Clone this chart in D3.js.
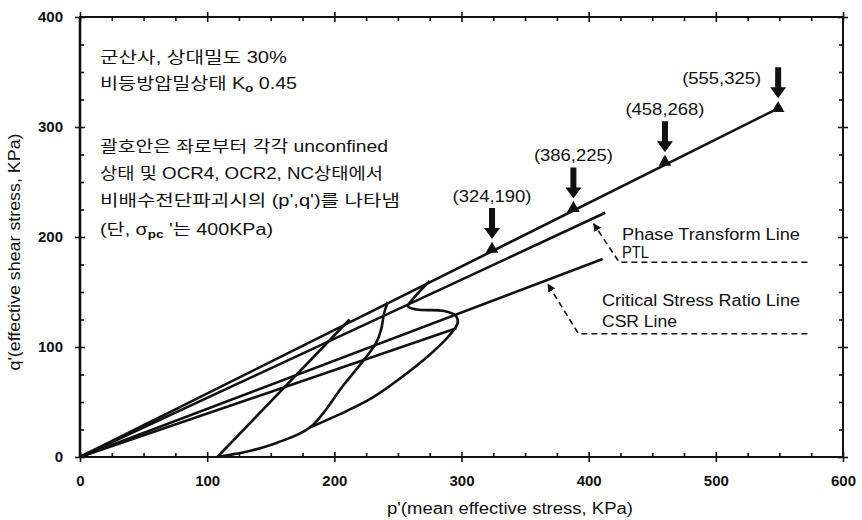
<!DOCTYPE html>
<html>
<head>
<meta charset="utf-8">
<script src="https://cdn.jsdelivr.net/npm/d3@7"></script>
<style>
  body{ margin:0; background:#fff; }
  svg text{ font-family: 'Liberation Sans', Arial, 'Noto Sans CJK KR', sans-serif; fill:#111; }
</style>
</head>
<body>
<svg id="chart" width="862" height="520"></svg>
<script>

// Axis ticks.
const x_ticks = [ 0, 100, 200, 300, 400, 500, 600 ];
const y_ticks = [ 0, 100, 200, 300, 400 ];
const x_minor = d3.range( 0, 601, 25 ).filter( d => d % 100 );
const y_minor = d3.range( 0, 401, 25 ).filter( d => d % 100 );

// Failure points (p', q') as plotted, and their labels.
const fail_p = [ 324, 388, 460, 549 ];
const fail_q = [ 189, 226, 268, 317 ];
const fail_labels = [ '(324,190)', '(386,225)', '(458,268)', '(555,325)' ];

// Straight lines from the origin.
const failure_line = [ [0, 0], [549, 317] ];
const ptl_line = [ [0, 0], [413, 222] ];
const csr_line = [ [0, 0], [411, 180] ];
const k0_line = [ [0, 0], [296, 117] ];

// Stress paths.
const path_unconfined = [ [108, 0], [212, 125] ];
const path_ocr4 = [ [108, 0], [118, 2], [135, 6], [155, 13], [181, 27], [207, 65], [233, 104], [237, 117], [239, 130], [242, 141] ];
const path_ocr2 = [ [181, 27], [210, 42], [230, 54], [250, 70], [275, 93], [290, 110], [297, 122], [295, 129], [285, 133], [265, 134], [258, 137], [262, 144], [275, 160] ];

// Legend leaders ( start of dashed line, end of horizontal dash, arrow tip ).
const ptl_leader = [ [572, 177], [424, 177], [404, 212] ];
const csr_leader = [ [572, 112], [392, 112], [368, 157] ];

const svg = d3.select( '#chart' );

const x = d3.scaleLinear().domain( [0, 600] ).range( [80, 843] );
const y = d3.scaleLinear().domain( [0, 400] ).range( [457, 17] );

// Axes: major ticks cross the frame, minor ticks point inward.
function draw_axis( axis_fn, scale, transform, major, minor, labels, pad ){
  svg.append( 'g' )
    .attr( 'transform', transform )
    .call( axis_fn( scale ).tickValues( major ).tickSize( 5 ).tickPadding( pad )
      .tickFormat( labels ? d3.format( 'd' ) : '' ) )
    .call( g => g.select( '.domain' ).remove() )
    .call( g => g.selectAll( 'text' ).attr( 'font-size', 15 ).attr( 'font-weight', 'bold' ) );
  svg.append( 'g' )
    .attr( 'transform', transform )
    .call( axis_fn( scale ).tickValues( major ).tickSize( -5 ).tickFormat( '' ) )
    .call( g => g.select( '.domain' ).remove() );
  svg.append( 'g' )
    .attr( 'transform', transform )
    .call( axis_fn( scale ).tickValues( minor ).tickSize( -4 ).tickFormat( '' ) )
    .call( g => g.select( '.domain' ).remove() );
}

draw_axis( d3.axisBottom, x, 'translate(0,' + y(0) + ')', x_ticks, x_minor, true, 13 );
draw_axis( d3.axisTop, x, 'translate(0,' + y(400) + ')', x_ticks, x_minor, false, 3 );
draw_axis( d3.axisLeft, y, 'translate(' + x(0) + ',0)', y_ticks, y_minor, true, 12 );
draw_axis( d3.axisRight, y, 'translate(' + x(600) + ',0)', y_ticks, y_minor, false, 3 );
svg.selectAll( '.tick line' ).attr( 'stroke', '#111' ).attr( 'stroke-width', 1.6 );

// Frame.
svg.append( 'rect' )
  .attr( 'x', x(0) ).attr( 'y', y(400) )
  .attr( 'width', x(600) - x(0) ).attr( 'height', y(0) - y(400) )
  .attr( 'fill', 'none' ).attr( 'stroke', '#111' ).attr( 'stroke-width', 2 );
svg.append( 'line' )
  .attr( 'x1', x(0) ).attr( 'x2', x(0) ).attr( 'y1', y(400) ).attr( 'y2', y(0) )
  .attr( 'stroke', '#111' ).attr( 'stroke-width', 2.6 );

// Axis titles.
svg.append( 'text' )
  .attr( 'x', 510 ).attr( 'y', 514 )
  .attr( 'text-anchor', 'middle' ).attr( 'font-size', 16 )
  .attr( 'textLength', 246 ).attr( 'lengthAdjust', 'spacingAndGlyphs' )
  .text( "p'(mean effective stress, KPa)" );
svg.append( 'g' )
  .attr( 'transform', 'translate(20, 252)' )
  .append( 'text' )
    .attr( 'transform', 'rotate(-90)' )
    .attr( 'text-anchor', 'middle' ).attr( 'font-size', 16 )
    .attr( 'textLength', 237 ).attr( 'lengthAdjust', 'spacingAndGlyphs' )
    .text( "q'(effective shear stress, KPa)" );

// Lines and stress paths.
const line = d3.line().x( d => x( d[0] ) ).y( d => y( d[1] ) );
const curve = d3.line().x( d => x( d[0] ) ).y( d => y( d[1] ) ).curve( d3.curveCatmullRom.alpha( 0.5 ) );

[ failure_line, ptl_line, csr_line, k0_line, path_unconfined ].forEach( function( d ){
  svg.append( 'path' ).attr( 'd', line( d ) )
    .attr( 'fill', 'none' ).attr( 'stroke', '#111' ).attr( 'stroke-width', 2.6 );
});
[ path_ocr4, path_ocr2 ].forEach( function( d ){
  svg.append( 'path' ).attr( 'd', curve( d ) )
    .attr( 'fill', 'none' ).attr( 'stroke', '#111' ).attr( 'stroke-width', 2.6 )
    .attr( 'stroke-linejoin', 'round' );
});

// Failure markers, arrows and labels.
const fail = fail_p.map( ( p, i ) => ( { p: p, q: fail_q[i], label: fail_labels[i] } ) );
svg.selectAll( '.marker' )
  .data( fail ).enter()
  .append( 'path' )
    .attr( 'class', 'marker' )
    .attr( 'transform', d => 'translate(' + x( d.p ) + ',' + y( d.q ) + ')' )
    .attr( 'd', d3.symbol( d3.symbolTriangle, 70 ) )
    .attr( 'fill', '#111' );

function arrow_path( cx, tip ){
  return 'M' + ( cx - 3 ) + ',' + ( tip - 31 ) + 'L' + ( cx + 3 ) + ',' + ( tip - 31 ) +
    'L' + ( cx + 3 ) + ',' + ( tip - 11 ) + 'L' + ( cx + 8 ) + ',' + ( tip - 11 ) +
    'L' + cx + ',' + tip + 'L' + ( cx - 8 ) + ',' + ( tip - 11 ) +
    'L' + ( cx - 3 ) + ',' + ( tip - 11 ) + 'Z';
}
svg.selectAll( '.arrow' )
  .data( fail ).enter()
  .append( 'path' )
    .attr( 'class', 'arrow' )
    .attr( 'd', d => arrow_path( x( d.p ), y( d.q ) - 10 ) )
    .attr( 'fill', '#111' );

svg.selectAll( '.flabel' )
  .data( fail ).enter()
  .append( 'text' )
    .attr( 'class', 'flabel' )
    .attr( 'x', ( d, i ) => i < 3 ? x( d.p ) : x( d.p ) - 17 )
    .attr( 'y', ( d, i ) => i < 3 ? y( d.q ) - 47 : y( d.q ) - 24 )
    .attr( 'text-anchor', ( d, i ) => i < 3 ? 'middle' : 'end' )
    .attr( 'font-size', 16 )
    .attr( 'textLength', 79 ).attr( 'lengthAdjust', 'spacingAndGlyphs' )
    .text( d => d.label );

// Legend leaders.
svg.append( 'defs' ).append( 'marker' )
  .attr( 'id', 'head' ).attr( 'viewBox', '0 0 10 10' )
  .attr( 'refX', 9 ).attr( 'refY', 5 )
  .attr( 'markerWidth', 5 ).attr( 'markerHeight', 5 )
  .attr( 'orient', 'auto' )
  .append( 'path' ).attr( 'd', 'M0,0L10,5L0,10Z' ).attr( 'fill', '#111' );

[ ptl_leader, csr_leader ].forEach( function( d ){
  svg.append( 'path' ).attr( 'd', line( d ) )
    .attr( 'fill', 'none' ).attr( 'stroke', '#111' ).attr( 'stroke-width', 1.6 )
    .attr( 'stroke-dasharray', '6,4' )
    .attr( 'marker-end', 'url(#head)' );
});

const legend = [
  { text: 'Phase Transform Line', x: 622, y: 240, w: 178 },
  { text: 'PTL', x: 622, y: 258, w: 27 },
  { text: 'Critical Stress Ratio Line', x: 602, y: 306, w: 198 },
  { text: 'CSR Line', x: 602, y: 327, w: 75 }
];
svg.selectAll( '.legend' )
  .data( legend ).enter()
  .append( 'text' )
    .attr( 'class', 'legend' )
    .attr( 'x', d => d.x ).attr( 'y', d => d.y )
    .attr( 'font-size', 16 )
    .attr( 'textLength', d => d.w ).attr( 'lengthAdjust', 'spacingAndGlyphs' )
    .text( d => d.text );

// Korean annotation block.
const note = svg.append( 'g' ).attr( 'font-size', 16 );
note.append( 'text' ).attr( 'x', 100 ).attr( 'y', 63 )
  .attr( 'textLength', 187 ).attr( 'lengthAdjust', 'spacingAndGlyphs' )
  .text( '군산사, 상대밀도 30%' );
const k0 = note.append( 'text' ).attr( 'x', 100 ).attr( 'y', 89 )
  .attr( 'textLength', 197 ).attr( 'lengthAdjust', 'spacingAndGlyphs' );
k0.append( 'tspan' ).text( '비등방압밀상태 K' );
k0.append( 'tspan' ).attr( 'font-size', 11 ).attr( 'font-weight', 'bold' ).attr( 'dy', 3 ).text( 'o' );
k0.append( 'tspan' ).attr( 'dy', -3 ).text( ' 0.45' );
note.append( 'text' ).attr( 'x', 100 ).attr( 'y', 152 )
  .attr( 'textLength', 288 ).attr( 'lengthAdjust', 'spacingAndGlyphs' )
  .text( '괄호안은 좌로부터 각각 unconfined' );
note.append( 'text' ).attr( 'x', 100 ).attr( 'y', 179 )
  .attr( 'textLength', 283 ).attr( 'lengthAdjust', 'spacingAndGlyphs' )
  .text( '상태 및 OCR4, OCR2, NC상태에서' );
note.append( 'text' ).attr( 'x', 100 ).attr( 'y', 206 )
  .attr( 'textLength', 300 ).attr( 'lengthAdjust', 'spacingAndGlyphs' )
  .text( "비배수전단파괴시의 (p',q')를 나타냄" );
const sig = note.append( 'text' ).attr( 'x', 100 ).attr( 'y', 235 )
  .attr( 'textLength', 173 ).attr( 'lengthAdjust', 'spacingAndGlyphs' );
sig.append( 'tspan' ).text( '(단, σ' );
sig.append( 'tspan' ).attr( 'font-size', 11 ).attr( 'font-weight', 'bold' ).attr( 'dy', 3 ).text( 'pc' );
sig.append( 'tspan' ).attr( 'dy', -3 ).text( " '는 400KPa)" );

</script>
</body>
</html>
